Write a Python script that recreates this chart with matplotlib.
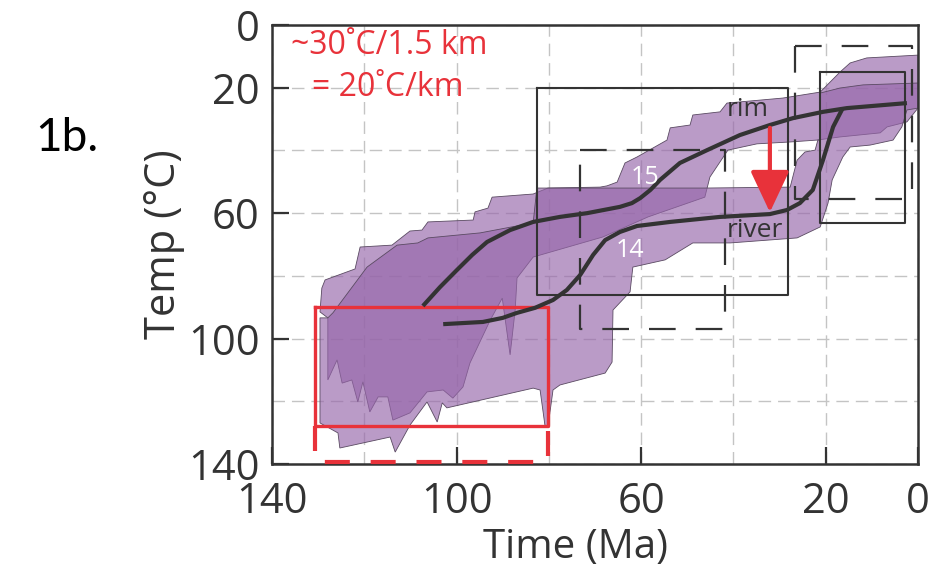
import matplotlib
matplotlib.use('Agg')
import matplotlib.pyplot as plt

plt.rcParams['font.family'] = ['Open Sans', 'DejaVu Sans']

# time (Ma) / temperature (C) envelopes
env15_t = [127.9, 127.9, 129.6, 129.2, 128.5, 122.0, 120.9, 114.0, 110.1, 107.5, 106.2, 96.4, 96.0,
           93.2, 92.3, 83.4, 80.2, 68.9, 67.4, 65.2, 63.5, 60.9, 54.4, 53.7, 49.4, 48.8, 42.9, 41.4,
           29.3, 21.2, 16.9, 14.7, 11.1, 0.0, 0.0, 2.4, 6.7, 8.2, 16.9, 21.9, 27.7, 34.9, 41.2, 45.1,
           45.7, 46.2, 58.5, 68.3, 83.4, 86.9, 87.3, 88.4, 90.1, 92.7, 97.1, 98.6, 100.8, 102.9,
           106.4, 110.1, 113.8, 114.9, 117.0, 118.8, 120.3, 121.4, 122.7, 124.8, 125.9]
env15_T = [113.2, 93.4, 91.5, 83.9, 81.3, 77.8, 70.8, 70.2, 65.7, 65.4, 62.8, 62.2, 59.6,
           58.4, 54.9, 53.9, 52.0, 51.7, 51.3, 50.1, 44.0, 42.1, 36.7, 32.8, 31.9, 28.7, 27.7, 24.9,
           23.3, 21.4, 15.0, 12.1, 10.5, 9.6, 26.5, 30.9, 32.5, 34.4, 35.7, 36.7, 37.3, 37.9, 39.9, 48.5,
           52.0, 54.9, 61.2, 67.6, 74.0, 80.7, 90.9, 105.2, 87.1, 94.1, 107.8, 115.4, 119.0, 116.4,
           117.0, 123.7, 126.0, 118.6, 118.6, 123.4, 113.8, 120.2, 113.2, 114.2, 106.8]

env14_t = [129.6, 129.6, 127.9, 126.8, 119.4, 112.9, 108.4, 106.2, 94.9, 83.4, 82.6, 46.2, 27.7,
           26.2, 24.5, 22.3, 21.7, 21.2, 21.2, 16.9, 11.9, 0.0, 0.0, 2.4, 3.5, 5.4, 10.4, 14.7, 16.3,
           18.6, 19.5, 21.2, 26.2, 40.7, 48.8, 54.8, 61.8, 62.4, 66.1, 66.3, 67.8, 77.6, 79.1, 80.2,
           80.8, 81.9, 83.4, 102.1, 103.1, 104.2, 106.4, 110.1, 113.3, 114.4, 125.3, 125.7]
env14_T = [126.9, 93.4, 93.4, 91.8, 77.2, 70.2, 69.5, 67.9, 66.3, 63.1, 52.0, 52.0, 51.7,
           43.1, 40.5, 39.9, 36.7, 36.7, 21.7, 20.1, 19.1, 18.5, 26.5, 27.1, 32.5, 36.7, 38.3, 38.9, 42.1,
           49.4, 56.8, 64.4, 67.9, 69.5, 69.5, 74.9, 77.2, 85.1, 90.9, 107.5, 111.0, 114.8, 116.4, 128.2,
           128.2, 116.4, 115.8, 122.1, 120.5, 126.6, 120.2, 127.6, 136.2, 131.4, 134.9, 130.1]

rim_t = [107.3, 103.6, 99.9, 96.6, 93.4, 88.4, 83.4, 77.6, 71.7, 64.6, 62.0, 60.2, 58.0, 55.9,
         51.6, 45.7, 38.6, 32.1, 27.1, 20.6, 15.4, 2.4]
rim_T = [89.6, 83.6, 78.1, 73.3, 69.2, 65.4, 62.8, 61.2, 60.0, 58.0, 56.8, 55.2, 52.6, 49.4,
         44.0, 39.9, 35.1, 31.9, 29.7, 27.7, 26.5, 24.9]
river_t = [102.9, 94.3, 90.0, 86.9, 83.0, 79.1, 76.1, 73.2, 70.4, 67.8, 64.6, 60.9, 53.7, 42.9,
           32.1, 28.4, 25.6, 22.8, 20.6, 18.4, 16.3]
river_T = [95.4, 94.7, 93.4, 91.8, 90.2, 87.7, 84.5, 79.7, 73.3, 68.6, 66.0, 64.1, 62.8, 61.2,
           60.3, 59.0, 56.8, 52.6, 43.1, 32.5, 26.5]

# boxes: (t_old, t_young, T_top, T_bottom)
solid_boxes = [(82.6, 28.2, 20, 86), (21.2, 2.8, 15, 63)]
dashed_boxes = [(73.2, 41.8, 40, 97), (26.7, 1.3, 6.7, 55.5)]
red_box = (130.7, 80.2, 89.8, 127.8)
red_dash_bottom = 139.3

xticks = [140, 100, 60, 20, 0]
yticks = [0, 20, 60, 100, 140]
grid_minor = [120, 80, 40]

DARK = '#333333'
RED = '#e8323a'
PURPLE = (150/255, 102/255, 170/255, 0.65)


def box(ax, t0, t1, y0, y1, **kw):
    ax.plot([t0, t1, t1, t0, t0], [y0, y0, y1, y1, y0], **kw)


fig = plt.figure(figsize=(9.35, 5.74), dpi=100)
ax = fig.add_axes([272/935, 1-464/574, (918-272)/935, (464-25)/574])

ax.fill(env15_t, env15_T, facecolor=PURPLE, edgecolor='#5a4a62', lw=0.6, zorder=2)
ax.fill(env14_t, env14_T, facecolor=PURPLE, edgecolor='#5a4a62', lw=0.6, zorder=2)

for b in solid_boxes:
    box(ax, *b, color=DARK, lw=1.5, zorder=3)
for b in dashed_boxes:
    box(ax, *b, color=DARK, lw=1.6, ls=(0, (12, 9)), zorder=3)

box(ax, *red_box, color=RED, lw=2.4, zorder=4)
ax.plot([red_box[0], red_box[0], red_box[1], red_box[1]],
        [red_box[3], red_dash_bottom, red_dash_bottom, red_box[3]],
        color=RED, lw=3, ls=(0, (6, 5)), zorder=4, clip_on=False)

ax.plot(rim_t, rim_T, color=DARK, lw=3, solid_capstyle='butt', solid_joinstyle='round', zorder=5)
ax.plot(river_t, river_T, color=DARK, lw=3, solid_capstyle='butt', solid_joinstyle='round', zorder=5)

ax.annotate('', xy=(32.1, 60.6), xytext=(32.1, 31.9),
            arrowprops=dict(arrowstyle='-|>,head_length=0.85,head_width=0.4',
                            color=RED, lw=3, mutation_scale=30), zorder=6)

ax.text(36.8, 27.1, 'rim', color=DARK, fontsize=19, ha='center', va='center', zorder=6)
ax.text(35.3, 65.4, 'river', color=DARK, fontsize=19, ha='center', va='center', zorder=6)
ax.text(59.2, 48.5, '15', color='white', fontsize=18, ha='center', va='center', zorder=6)
ax.text(62.4, 71.8, '14', color='white', fontsize=18, ha='center', va='center', zorder=6)

ax.text(135.9, 6.4, '~30˚C/1.5 km', color=RED, fontsize=23, ha='left', va='center')
ax.text(131.3, 20.0, '= 20˚C/km', color=RED, fontsize=23, ha='left', va='center')

ax.set_xlim(140, 0)
ax.set_ylim(140, 0)
ax.set_xticks(xticks)
ax.set_yticks(yticks)
ax.set_xticks(grid_minor, minor=True)
ax.set_yticks(grid_minor, minor=True)
ax.grid(True, which='both', color='#c4c4c4', lw=1.0, ls=(0, (9, 5)), zorder=0)
ax.set_axisbelow(True)
ax.tick_params(which='major', direction='in', length=12, width=1.6, color=DARK,
               labelsize=30, labelcolor=DARK)
ax.tick_params(axis='x', pad=12)
ax.tick_params(axis='y', pad=9)
ax.tick_params(which='minor', length=0)
for s in ax.spines.values():
    s.set_color(DARK)
    s.set_linewidth(1.8)
ax.get_xticklabels()[0].set_x(137)

ax.set_xlabel('Time (Ma)', fontsize=29, color=DARK)
ax.set_ylabel('Temp (°C)', fontsize=30, color=DARK)
ax.xaxis.set_label_coords(0.47, -0.145)
ax.yaxis.set_label_coords(-0.135, 0.5)

fig.text(35/935, 1-138/574, '1b.', fontsize=33, color='black', family='Lato', va='center')

fig.savefig('out.png', dpi=100)
